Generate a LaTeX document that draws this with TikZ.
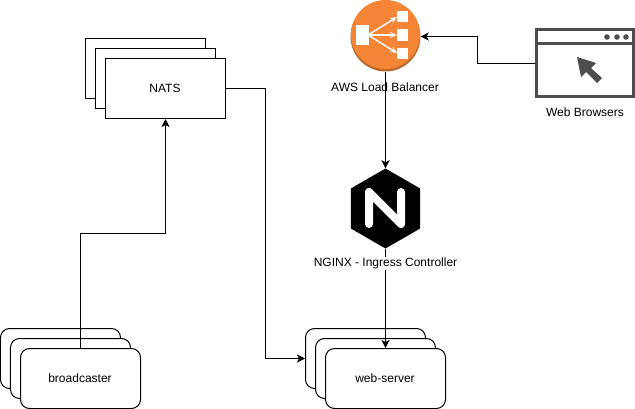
\documentclass[tikz,border=0pt]{standalone}
\usepackage{fontspec}
\setmainfont{Liberation Sans}
\usetikzlibrary{arrows.meta, shapes.geometric}

\definecolor{lbOrange}{HTML}{F58536}
\definecolor{lbDark}{HTML}{B86A2E}
\definecolor{iconGrey}{HTML}{4D4D4D}

\tikzset{
    natsbox/.style={draw, fill=white, line width=1pt, minimum width=120pt, minimum height=60pt, inner sep=0pt},
    serverbox/.style={natsbox, rounded corners=9pt},
    label/.style={inner sep=1pt, font=\fontsize{12}{14}\selectfont},
    link/.style={->, line width=1pt}
}

\begin{document}
\begin{tikzpicture}[x=1pt, y=-1pt, >={Stealth[length=8pt, width=8pt, inset=2pt]}]
    \useasboundingbox (-0.5,-0.5) rectangle (634.5,408.5);

    % NATS stack
    \node[natsbox] (NatsC) at (145,68) {};
    \node[natsbox] (NatsB) at (155,78) {};
    \node[natsbox, label] (Nats) at (165,88) {\hspace*{-1pt}NATS};

    % broadcaster stack
    \node[serverbox] (BroadcasterC) at (60,358) {};
    \node[serverbox] (BroadcasterB) at (70,368) {};
    \node[serverbox, label] (Broadcaster) at (80,378) {\hspace*{-1pt}broadcaster};

    % web-server stack
    \node[serverbox] (WebServerC) at (365,358) {};
    \node[serverbox] (WebServerB) at (375,368) {};
    \node[serverbox, label] (WebServer) at (385,378) {\hspace*{-1pt}web-server};

    % load balancer icon
    \node[circle, fill=lbDark, minimum size=70pt, inner sep=0pt] (Balancer) at (385,36) {};
    \fill[lbOrange] (385,34) circle (34.5);
    \fill[white] (355.5,24.5) rectangle (368.5,44.5);
    \fill[white] (396.5,10.5) rectangle (407.5,21.5);
    \fill[white] (396.5,28.5) rectangle (407.5,40.5);
    \fill[white] (396.5,47.5) rectangle (407.5,58.5);
    \draw[white, line width=1.5pt, -{Stealth[length=7pt, width=6pt]}] (367.5,34.5) -- (396.5,16.5);
    \draw[white, line width=1.5pt, -{Stealth[length=7pt, width=6pt]}] (367.5,34.5) -- (396.5,34.5);
    \draw[white, line width=1.5pt, -{Stealth[length=7pt, width=6pt]}] (367.5,34.5) -- (396.5,52.5);

    % nginx icon
    \node[regular polygon, regular polygon sides=6, shape border rotate=90, fill=black, minimum size=80pt, inner sep=0pt] (Nginx) at (385,208) {};
    \draw[white, line width=8pt, line cap=round, line join=round] (368.5,223.5) -- (368.5,191.5) -- (400.5,223.5) -- (400.5,191.5);

    % browser icon
    \node[draw=iconGrey, fill=white, line width=3pt, minimum width=97pt, minimum height=67pt, inner sep=0pt] (Browser) at (584.5,63) {};
    \draw[iconGrey, line width=3pt] (535.5,43.5) -- (633.5,43.5);
    \fill[iconGrey] (606.5,36.5) circle (2.8);
    \fill[iconGrey] (616.5,36.5) circle (2.8);
    \fill[iconGrey] (625.5,36.5) circle (2.8);
    \fill[iconGrey] (576.5,56.5) -- (595.5,62.5) -- (590.5,67.5) -- (601.5,77.5) -- (596.5,82.5) -- (585.5,71.5) -- (580.5,76.5) -- cycle;

    \coordinate (BrowserBend) at (477,63);
    \coordinate (NatsBend) at (265,88);
    \coordinate (BroadcasterBend) at (80,233);

    \draw[link] (Browser.west) -- (BrowserBend) |- (Balancer.east);
    \draw[link] (Balancer.south) -- (Nginx.north);
    \draw[link] (Nginx.south) -- (WebServer.north);
    \draw[link] (Nats.east) -- (NatsBend) |- (WebServerC.west);
    \draw[link] (Broadcaster.north) -- (BroadcasterBend) -| (Nats.south);

    % captions
    \node[label] (BalancerText) at (384.5,87) {AWS Load Balancer};
    \node[label, fill=white] (NginxText) at (385,263) {NGINX - Ingress Controller};
    \node[label] (BrowserText) at (584.5,112) {Web Browsers};
\end{tikzpicture}
\end{document}
